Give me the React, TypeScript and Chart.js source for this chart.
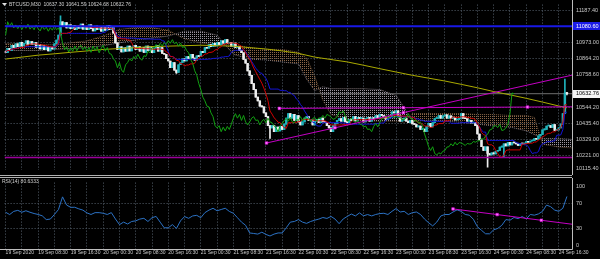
import React, { useEffect, useRef } from 'react';
import { Chart, registerables } from 'chart.js';

Chart.register(...registerables);

// ---------------- data ----------------
const symbolTitle = 'BTCUSD,M30';
const lastBarOHLC = [10637.3, 10641.59, 10624.68, 10632.76];
const rsiTitle = 'RSI(14)';
const rsiLast = 80.6333;

const timeLabels = [
  '19 Sep 2020', '19 Sep 08:30', '19 Sep 16:30', '20 Sep 00:30', '20 Sep 08:30', '20 Sep 16:30',
  '21 Sep 00:30', '21 Sep 08:30', '21 Sep 16:30', '22 Sep 00:30', '22 Sep 08:30', '22 Sep 16:30',
  '23 Sep 00:30', '23 Sep 08:30', '23 Sep 16:30', '24 Sep 00:30', '24 Sep 08:30', '24 Sep 16:30',
];
const barsPerLabel = 16;
const barsPerGrid = 8;

const priceTicks = [11187.4, 10973.0, 10864.2, 10758.6, 10544.2, 10435.4, 10329.0, 10221.0];
const priceBottomLabel = 10115.4;
const rsiTicks = [100, 70, 30, 0];
const rsiGridLevels = [70, 30];

const firstOpen = 10915;
const closes = [
  10905, 10935, 10920, 10955, 10940, 10965, 10945, 10975, 10950, 10968,
  10985, 10962, 10980, 10958, 10972, 10940, 10960, 10930, 10952, 10925,
  10945, 10918, 10940, 10930, 10965, 10990,
  11022, 11111,
  11080, 11105, 11070, 11090, 11065, 11088, 11060, 11085,
  11068, 11095, 11062, 11080, 11058, 11090, 11065, 11050, 11082, 11060,
  11075, 11048, 11072, 11055, 11085, 11058, 11070, 11035,
  10971, 10925,
  10945, 10910, 10938, 10915, 10950, 10918, 10942, 10955,
  10925, 10945, 10915, 10940, 10908, 10950, 10920, 10945, 10905, 10935,
  10955, 10915, 10940, 10900, 10895, 10865,
  10850, 10805, 10840, 10790, 10775,
  10825, 10840, 10865, 10850, 10880,
  10865, 10895, 10870, 10855, 10885,
  10880, 10915, 10905, 10940, 10935,
  10960, 10945, 10968, 10950, 10972,
  10960, 10985, 10968, 10992, 10965,
  10975, 10948, 10970, 10940, 10948,
  10920, 10905, 10860, 10835, 10785,
  10755, 10700, 10660, 10610, 10585,
  10550, 10545, 10505, 10480, 10420,
  10405, 10420, 10380, 10410, 10385,
  10415, 10395, 10430, 10470, 10500,
  10470, 10495, 10455, 10488, 10445,
  10425, 10445, 10470, 10480, 10455,
  10458, 10425, 10450, 10462, 10440,
  10470, 10445, 10440, 10420, 10405,
  10380, 10420, 10435, 10455, 10468,
  10450, 10475, 10445, 10440, 10462,
  10455, 10480, 10452, 10475, 10468,
  10470, 10445, 10468, 10475, 10450,
  10472, 10468, 10488, 10470, 10495,
  10488, 10478, 10462, 10468, 10480,
  10512, 10505, 10518, 10485, 10450,
  10458, 10470, 10450, 10440, 10455,
  10432, 10428, 10412, 10418, 10395,
  10398, 10380, 10415, 10435, 10412,
  10440, 10468, 10470, 10488, 10470,
  10485, 10492, 10470, 10486, 10470,
  10475, 10458, 10462, 10470, 10500,
  10470, 10466, 10450, 10455, 10438,
  10442, 10420, 10365, 10325, 10280,
  10255, 10280, 10235, 10225, 10240,
  10232, 10250, 10255, 10278, 10280,
  10300, 10285, 10310, 10292, 10308,
  10305, 10298, 10288, 10302, 10298,
  10300, 10315, 10310, 10318, 10320,
  10335, 10330, 10352, 10362, 10392,
  10395, 10418, 10420, 10408, 10428,
  10388, 10392, 10405, 10430, 10500,
  10637.3, 10632.76,
];
const wickHighBars = [27, 275, 276];
const wickHighVals = [11150, 10730, 10641.59];
const wickLowBars = [84, 130, 237, 245, 276];
const wickLowVals = [10767, 10335, 10144, 10208, 10624.68];

// moving average (yellow), one reading every 8 bars plus the last bar
const maBars = [0, 8, 16, 24, 32, 40, 48, 56, 64, 72, 80, 88, 96, 104, 112, 120, 128, 136, 144, 152, 160, 168, 176, 184, 192, 200, 208, 216, 224, 232, 240, 248, 256, 264, 272, 276];
const maValues = [10863, 10876, 10889, 10898, 10908, 10917, 10927, 10933, 10939, 10946, 10949, 10952, 10955, 10952, 10949, 10939, 10930, 10917, 10901, 10876, 10860, 10844, 10822, 10799, 10777, 10755, 10736, 10717, 10695, 10672, 10647, 10625, 10602, 10577, 10551, 10539];

// ichimoku cloud spans
const cloudBars = [0, 8, 16, 24, 32, 40, 48, 56, 64, 72, 80, 88, 96, 104, 112, 120, 128, 136, 144, 148, 152, 156, 160, 168, 176, 184, 192, 196, 200, 208, 216, 224, 232, 240, 248, 256, 260, 264, 272, 278.5];
const spanA = [10965, 10965, 10958, 10958, 10971, 10984, 11016, 11060, 11073, 11073, 11054, 10997, 10971, 10958, 10958, 10939, 10927, 10927, 10908, 10869, 10749, 10590, 10494, 10462, 10450, 10450, 10450, 10443, 10501, 10501, 10501, 10501, 10494, 10494, 10488, 10488, 10475, 10297, 10278, 10272];
const spanB = [10920, 10920, 10920, 10927, 10933, 10939, 10952, 10971, 10990, 11003, 11016, 11048, 11048, 11022, 10895, 10863, 10857, 10844, 10831, 10730, 10653, 10679, 10666, 10666, 10666, 10660, 10621, 10539, 10450, 10456, 10450, 10443, 10431, 10418, 10411, 10386, 10361, 10335, 10335, 10329];

// RSI(14), one reading every 2 bars
const rsiStep = 2;
const rsiValues = [
  55.6, 52, 57, 58.6, 55.6, 58, 55.6, 53.6, 52.1, 50,
  44, 44.8, 52.1, 60, 80, 67, 63.4, 63.5, 61, 59,
  54.6, 52.1, 55, 55, 54, 52.1, 55, 45, 36, 40,
  37, 41, 42, 44.8, 46, 41, 47, 49, 40, 31,
  31, 36, 30, 42, 48.8, 46, 49.8, 50.7, 47, 55,
  59, 61.9, 58, 60, 62, 57, 54, 47, 40, 35,
  22.8, 22, 21, 24, 20.5, 18, 21, 22.8, 22.8, 31,
  40, 41, 44, 40, 38, 41, 43, 44.8, 47.3, 45.8,
  49, 44.8, 37.5, 45, 49, 52.8, 49.8, 54.6, 50, 52,
  49.8, 52.1, 53.5, 54, 52.1, 57.1, 61.5, 56, 57.1, 52.1,
  55, 56, 52.1, 44.8, 39, 34, 40, 49.8, 52.1, 52,
  56, 59.4, 57.1, 52.1, 51, 44.5, 32.6, 27, 21.5, 21.5,
  27.8, 30, 35, 44, 43, 47.3, 45.5, 48.8, 45, 52.1,
  51, 53, 57, 67, 64.4, 59, 57.1, 61.9, 80.6,
];

// levels and drawn objects
const bidPrice = 10632.76;
const levelBlue = 11080.6;
const levelPurple = 10208;
const trendUpBars = [128.3, 195.6];
const trendUpVals = [10305, 10507];
const trendFlatBars = [134.6, 256.6];
const trendFlatVals = [10535, 10544];
const rsiTrendBars = [220, 263.4];
const rsiTrendVals = [60.9, 42.9];
const chikouShift = 26;
const tenkanPeriod = 9;
const kijunPeriod = 26;

// ---------------- view constants ----------------
const X_MIN = -0.49;
const X_MAX = 278.5;
const P_MAX = 11225.2;
const P_MIN = 10122.7;
const R_MAX = 102.6;
const R_MIN = -2.6;
const FONT = '"Liberation Sans", Arial, sans-serif';
const TXT = '#c8c8c8';
const GRID = '#56616d';
const BULL = '#1fb2ba';
const BEAR = '#eeeeee';
const MAG = '#c400c4';

function buildOHLC() {
  const opens = closes.map((c, i) => (i === 0 ? firstOpen : closes[i - 1]));
  const highs = closes.map((c, i) => Math.max(c, opens[i]));
  const lows = closes.map((c, i) => Math.min(c, opens[i]));
  wickHighBars.forEach((b, k) => { highs[b] = Math.max(highs[b], wickHighVals[k]); });
  wickLowBars.forEach((b, k) => { lows[b] = Math.min(lows[b], wickLowVals[k]); });
  return { opens, highs, lows };
}

function midline(highs: number[], lows: number[], period: number) {
  return highs.map((_, i) => {
    const s = Math.max(0, i - period + 1);
    let h = -Infinity;
    let l = Infinity;
    for (let j = s; j <= i; j++) { h = Math.max(h, highs[j]); l = Math.min(l, lows[j]); }
    return { x: i, y: (h + l) / 2 };
  });
}

function ray(bars: number[], vals: number[]) {
  const s = (vals[1] - vals[0]) / (bars[1] - bars[0]);
  return [{ x: bars[0], y: vals[0] }, { x: X_MAX, y: vals[0] + s * (X_MAX - bars[0]) }];
}
function anchors(bars: number[], vals: number[]) {
  return [
    { x: bars[0], y: vals[0] },
    { x: (bars[0] + bars[1]) / 2, y: (vals[0] + vals[1]) / 2 },
    { x: bars[1], y: vals[1] },
  ];
}
function level(v: number) {
  return [{ x: X_MIN, y: v }, { x: X_MAX, y: v }];
}
function dotPattern(ctx: CanvasRenderingContext2D, color: string) {
  const c = document.createElement('canvas');
  c.width = 2;
  c.height = 2;
  const g = c.getContext('2d')!;
  g.fillStyle = color;
  g.fillRect(0, 0, 1, 1);
  return ctx.createPattern(c, 'repeat');
}

const gridBars: number[] = [];
for (let b = 0; b <= (timeLabels.length - 1) * barsPerLabel; b += barsPerGrid) gridBars.push(b);

function lineDs(data: any[], color: string, width: number, order: number, extra: any = {}) {
  return {
    type: 'line', data, borderColor: color, borderWidth: width, pointRadius: 0,
    tension: 0, fill: false, order, ...extra,
  };
}

export default function App() {
  const mainRef = useRef<HTMLCanvasElement>(null);
  const rsiRef = useRef<HTMLCanvasElement>(null);

  useEffect(() => {
    document.body.style.margin = '0';
    document.body.style.background = '#000';
    const mainCanvas = mainRef.current!;
    const rsiCanvas = rsiRef.current!;
    const mctx = mainCanvas.getContext('2d')!;

    const { opens, highs, lows } = buildOHLC();
    const colors = closes.map((c, i) => (c >= opens[i] ? BULL : BEAR));
    const bodies = closes.map((c, i) => ({ x: i, y: [Math.min(opens[i], c), Math.max(opens[i], c)] }));
    const wicks = closes.map((c, i) => ({ x: i, y: [lows[i], highs[i]] }));
    const tenkan = midline(highs, lows, tenkanPeriod);
    const kijun = midline(highs, lows, kijunPeriod);
    const chikou = closes.slice(chikouShift).map((c, k) => ({ x: k, y: c }));
    const ma = maBars.map((b, k) => ({ x: b, y: maValues[k] }));
    const sa = cloudBars.map((b, k) => ({ x: b, y: spanA[k] }));
    const sb = cloudBars.map((b, k) => ({ x: b, y: spanB[k] }));
    const sandy = dotPattern(mctx, '#8a6547');
    const thistle = dotPattern(mctx, '#9c949e');

    const mainPlugin = {
      id: 'mainDecor',
      afterDraw(chart: any) {
        const { ctx, chartArea } = chart;
        const yS = chart.scales.y;
        const r = chartArea.right;
        ctx.save();
        ctx.strokeStyle = '#bdbdbd';
        ctx.lineWidth = 1;
        ctx.beginPath();
        ctx.moveTo(r + 0.5, 0);
        ctx.lineTo(r + 0.5, chart.height);
        ctx.stroke();
        ctx.font = `5.5px ${FONT}`;
        ctx.textBaseline = 'middle';
        ctx.textAlign = 'left';
        ctx.fillStyle = TXT;
        ctx.fillText(priceBottomLabel.toFixed(2), r + 4, chartArea.bottom - 2);
        const yb = yS.getPixelForValue(levelBlue);
        ctx.fillStyle = '#1c1ce8';
        ctx.fillRect(r + 1, Math.round(yb) - 4, 27, 8);
        ctx.fillStyle = '#ffffff';
        ctx.fillText(levelBlue.toFixed(2), r + 4, yb);
        const yp = yS.getPixelForValue(bidPrice);
        ctx.fillStyle = '#f4f4f4';
        ctx.fillRect(r + 1, Math.round(yp) - 4, 27, 8);
        ctx.fillStyle = '#000000';
        ctx.fillText(bidPrice.toFixed(2), r + 4, yp);
        // header
        ctx.fillStyle = '#e0e0e0';
        ctx.beginPath();
        ctx.moveTo(2, 3);
        ctx.lineTo(7, 3);
        ctx.lineTo(4.5, 6);
        ctx.closePath();
        ctx.fill();
        ctx.font = `5px ${FONT}`;
        ctx.fillStyle = '#cfcfcf';
        ctx.fillText(`${symbolTitle}  ${lastBarOHLC.map((v) => v.toFixed(2)).join(' ')}`, 9, 5);
        ctx.restore();
      },
    };

    const main = new Chart(mainCanvas, {
      type: 'bar',
      data: {
        datasets: [
          {
            type: 'line', data: [...anchors(trendUpBars, trendUpVals), ...anchors(trendFlatBars, trendFlatVals)],
            showLine: false, pointStyle: 'rect', pointRadius: 1.8, pointBackgroundColor: '#ff80ff',
            pointBorderColor: '#e000e0', pointBorderWidth: 0.6, order: 0,
          },
          lineDs(ray(trendUpBars, trendUpVals), MAG, 1, 1),
          lineDs(ray(trendFlatBars, trendFlatVals), MAG, 1, 1),
          lineDs(level(levelBlue), '#1818e6', 2, 1),
          lineDs(level(levelPurple), '#9a009a', 1.5, 1),
          lineDs(chikou, '#12a012', 1, 2),
          lineDs(tenkan, '#d20000', 1, 2),
          lineDs(kijun, '#1414d8', 1, 2),
          lineDs(ma, '#aaaa00', 1, 3),
          {
            type: 'bar', data: bodies, backgroundColor: colors, barThickness: 1.8, grouped: false,
            borderWidth: 0, minBarLength: 1, order: 4,
          },
          {
            type: 'bar', data: wicks, backgroundColor: colors, barThickness: 1, grouped: false,
            borderWidth: 0, minBarLength: 1, order: 5,
          },
          lineDs(level(bidPrice), '#6e6e6e', 1, 6),
          lineDs(sa, 'rgba(160,120,85,0.7)', 1, 7, {
            borderDash: [1, 1], fill: { target: '+1', above: sandy, below: thistle },
          }),
          lineDs(sb, 'rgba(170,160,172,0.7)', 1, 7, { borderDash: [1, 1] }),
        ] as any,
      },
      options: {
        responsive: false,
        maintainAspectRatio: false,
        devicePixelRatio: 1,
        animation: false,
        events: [],
        layout: { padding: 0 },
        plugins: { legend: { display: false }, tooltip: { enabled: false } },
        scales: {
          x: {
            type: 'linear', min: X_MIN, max: X_MAX, offset: false,
            afterBuildTicks: (s: any) => { s.ticks = gridBars.map((v) => ({ value: v })); },
            afterFit: (s: any) => { s.height = 0; s.paddingLeft = 0; s.paddingRight = 0; },
            ticks: { display: false },
            grid: { color: GRID, drawTicks: false, offset: false, borderDash: [1, 2] },
            border: { display: false, dash: [1, 2] },
          },
          y: {
            position: 'right', min: P_MIN, max: P_MAX,
            afterBuildTicks: (s: any) => { s.ticks = priceTicks.map((v) => ({ value: v })); },
            afterFit: (s: any) => { s.width = 28; s.paddingTop = 0; s.paddingBottom = 0; },
            ticks: {
              color: TXT, padding: 4, font: { size: 5.5, family: FONT },
              callback: (v: any) => Number(v).toFixed(2),
            },
            grid: { color: GRID, drawTicks: false, borderDash: [1, 2] },
            border: { display: false, dash: [1, 2] },
          },
        },
      } as any,
      plugins: [mainPlugin],
    });

    const rsiData = rsiValues.map((v, k) => ({ x: k * rsiStep, y: v }));
    const rsiPlugin = {
      id: 'rsiDecor',
      afterDraw(chart: any) {
        const { ctx, chartArea } = chart;
        const yS = chart.scales.y;
        const r = chartArea.right;
        ctx.save();
        ctx.strokeStyle = '#bdbdbd';
        ctx.lineWidth = 1;
        ctx.beginPath();
        ctx.moveTo(r + 0.5, 0);
        ctx.lineTo(r + 0.5, chartArea.bottom + 0.5);
        ctx.lineTo(0, chartArea.bottom + 0.5);
        ctx.stroke();
        ctx.font = `5.5px ${FONT}`;
        ctx.textBaseline = 'middle';
        ctx.textAlign = 'left';
        ctx.fillStyle = TXT;
        rsiTicks.forEach((v) => {
          const y = Math.min(Math.max(yS.getPixelForValue(v), chartArea.top + 4), chartArea.bottom - 4);
          ctx.fillText(String(v), r + 4, y);
        });
        ctx.font = `5px ${FONT}`;
        ctx.fillStyle = '#cfcfcf';
        ctx.fillText(`${rsiTitle} ${rsiLast.toFixed(4)}`, 2, 4);
        ctx.restore();
      },
    };

    const rsi = new Chart(rsiCanvas, {
      type: 'line',
      data: {
        datasets: [
          {
            data: anchors(rsiTrendBars, rsiTrendVals), showLine: false, pointStyle: 'rect', pointRadius: 1.8,
            pointBackgroundColor: '#ff80ff', pointBorderColor: '#e000e0', pointBorderWidth: 0.6, order: 0,
          },
          lineDs(ray(rsiTrendBars, rsiTrendVals), MAG, 1, 1),
          lineDs(rsiData, '#2c72c4', 1, 2),
        ] as any,
      },
      options: {
        responsive: false,
        maintainAspectRatio: false,
        devicePixelRatio: 1,
        animation: false,
        events: [],
        layout: { padding: 0 },
        plugins: { legend: { display: false }, tooltip: { enabled: false } },
        scales: {
          x: {
            type: 'linear', min: X_MIN, max: X_MAX, offset: false,
            afterBuildTicks: (s: any) => { s.ticks = gridBars.map((v) => ({ value: v })); },
            afterFit: (s: any) => { s.height = 10; s.paddingLeft = 0; s.paddingRight = 0; },
            ticks: {
              color: TXT, autoSkip: false, maxRotation: 0, minRotation: 0, align: 'start', padding: 1,
              font: { size: 5, family: FONT },
              callback: (v: any) => (Number(v) % barsPerLabel === 0 ? timeLabels[Number(v) / barsPerLabel] : ''),
            },
            grid: { color: GRID, drawTicks: false, offset: false, borderDash: [1, 2] },
            border: { display: false, dash: [1, 2] },
          },
          y: {
            position: 'right', min: R_MIN, max: R_MAX,
            afterBuildTicks: (s: any) => { s.ticks = rsiGridLevels.map((v) => ({ value: v })); },
            afterFit: (s: any) => { s.width = 28; s.paddingTop = 0; s.paddingBottom = 0; },
            ticks: { display: false },
            grid: { color: GRID, drawTicks: false, borderDash: [1, 2] },
            border: { display: false, dash: [1, 2] },
          },
        },
      } as any,
      plugins: [rsiPlugin],
    });

    return () => {
      main.destroy();
      rsi.destroy();
    };
  }, []);

  return (
    <div style={{ position: 'relative', width: 600, height: 259, background: '#000', overflow: 'hidden' }}>
      <canvas ref={mainRef} width={600} height={175} style={{ position: 'absolute', left: 0, top: 0 }} />
      <div style={{ position: 'absolute', left: 0, top: 175, width: 572, height: 1, background: '#b0b0b0' }} />
      <div style={{ position: 'absolute', left: 0, top: 177, width: 572, height: 1, background: '#b0b0b0' }} />
      <canvas ref={rsiRef} width={600} height={81} style={{ position: 'absolute', left: 0, top: 178 }} />
    </div>
  );
}
